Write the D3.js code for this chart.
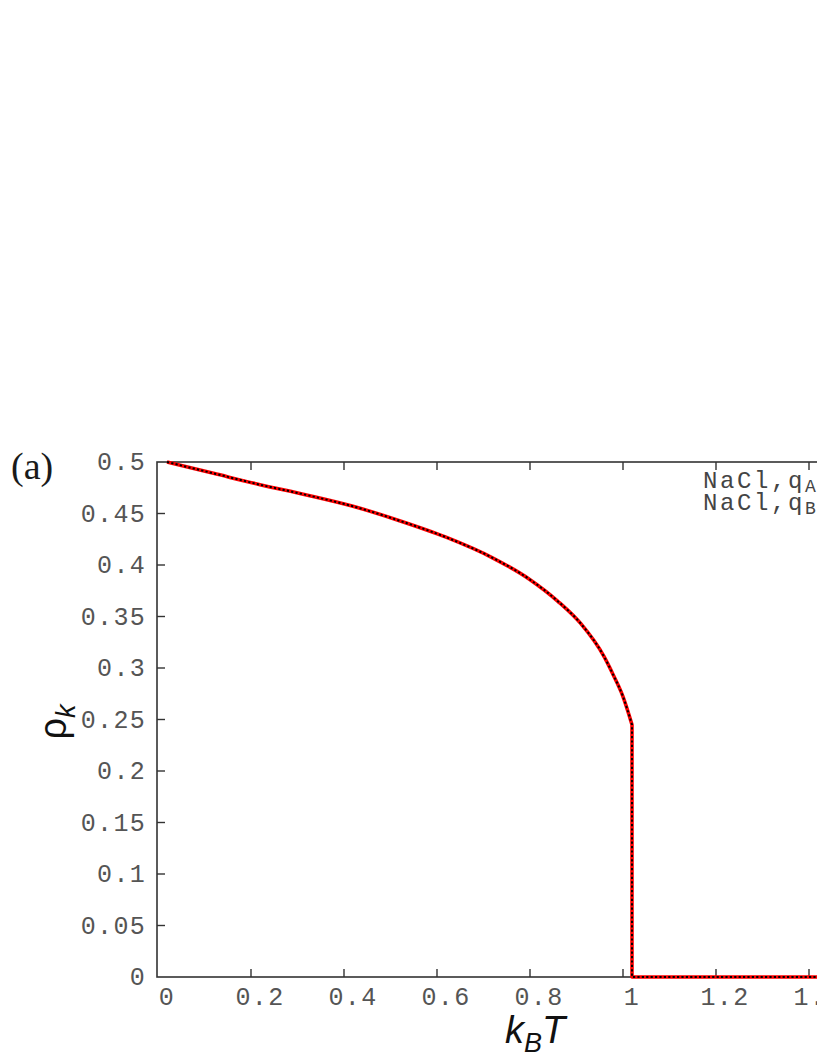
<!DOCTYPE html>
<html>
<head>
<meta charset="utf-8">
<script src="https://cdn.jsdelivr.net/npm/d3@7"></script>
<style>
  html, body { margin: 0; padding: 0; background: #fff; }
  svg { display: block; }
  .tick-label { font-family: "Liberation Mono", "DejaVu Sans Mono", monospace; font-size: 25px; letter-spacing: 1.3px; fill: #555; }
  .legend-label { font-family: "Liberation Mono", "DejaVu Sans Mono", monospace; font-size: 24px; letter-spacing: 2.6px; fill: #444; }
</style>
</head>
<body>
<svg id="chart" width="817" height="1058"></svg>
<script>
// temperature (k_B T) and order parameter rho_k
const kT = [0, 0.1, 0.2, 0.3, 0.4, 0.5, 0.6, 0.7, 0.78, 0.84, 0.89, 0.94, 0.96, 0.98, 1.0];
const rho = [0.5, 0.489, 0.478, 0.468, 0.457, 0.443, 0.427, 0.407, 0.386, 0.365, 0.343, 0.311, 0.293, 0.273, 0.245];
// after the jump at k_B T = 1 the order parameter stays at zero
const kTHigh = [1.0, 1.0, 2.0];
const rhoHigh = [0.245, 0, 0];

const xTicks = [0, 0.2, 0.4, 0.6, 0.8, 1, 1.2, 1.4, 1.6, 1.8, 2];
const yTicks = [0, 0.05, 0.1, 0.15, 0.2, 0.25, 0.3, 0.35, 0.4, 0.45, 0.5];
const legendLabels = [["NaCl,q", "A"], ["NaCl,q", "B"]];

const svg = d3.select('#chart');

const x = d3.scaleLinear().domain([0, 2]).range([167, 1097]);
const y = d3.scaleLinear().domain([0, 0.5]).range([977, 462]);

const frameL = 157, frameT = 462, frameB = 977, frameR = 1110;
const tickShift = -9; // tick marks sit a little left of their labels in the original

// frame
svg.append('rect')
  .attr('x', frameL).attr('y', frameT)
  .attr('width', frameR - frameL).attr('height', frameB - frameT)
  .style('fill', 'none')
  .style('stroke', '#333')
  .style('stroke-width', 1.6);

// x ticks (bottom and top, inward)
const xt = svg.append('g').attr('class', 'x-ticks');
xt.selectAll('line.bt')
  .data(xTicks.filter(d => d > 0))
  .enter().append('line')
  .attr('class', 'bt')
  .attr('x1', d => x(d) + tickShift).attr('x2', d => x(d) + tickShift)
  .attr('y1', frameB).attr('y2', frameB - 8)
  .style('stroke', '#333').style('stroke-width', 1.4);
xt.selectAll('line.tp')
  .data(xTicks.filter(d => d > 0))
  .enter().append('line')
  .attr('class', 'tp')
  .attr('x1', d => x(d) + tickShift).attr('x2', d => x(d) + tickShift)
  .attr('y1', frameT).attr('y2', frameT + 8)
  .style('stroke', '#333').style('stroke-width', 1.4);
xt.selectAll('text')
  .data(xTicks)
  .enter().append('text')
  .attr('class', 'tick-label')
  .attr('x', d => x(d))
  .attr('y', 1005)
  .attr('text-anchor', 'middle')
  .text(d => d3.format('')(d));

// y ticks (left, inward)
const yt = svg.append('g').attr('class', 'y-ticks');
yt.selectAll('line')
  .data(yTicks.filter(d => d > 0 && d < 0.5))
  .enter().append('line')
  .attr('x1', frameL).attr('x2', frameL + 8)
  .attr('y1', d => y(d)).attr('y2', d => y(d))
  .style('stroke', '#333').style('stroke-width', 1.4);
yt.selectAll('text')
  .data(yTicks)
  .enter().append('text')
  .attr('class', 'tick-label')
  .attr('x', 146)
  .attr('y', d => y(d) + 8)
  .attr('text-anchor', 'end')
  .text(d => d3.format('')(d));

// curve: red solid under black dotted
const smooth = d3.line()
  .x(i => x(kT[i])).y(i => y(rho[i]))
  .curve(d3.curveMonotoneX);
const step = d3.line()
  .x(i => x(kTHigh[i])).y(i => y(rhoHigh[i]));
const pathD = smooth(kT.map((d, i) => i)) + step(kTHigh.map((d, i) => i)).replace(/^M/, 'L');

svg.append('path')
  .attr('d', pathD)
  .style('fill', 'none')
  .style('stroke', '#ff0000')
  .style('stroke-width', 3.6)
  .style('stroke-linejoin', 'round');

svg.append('path')
  .attr('d', pathD)
  .style('fill', 'none')
  .style('stroke', '#000')
  .style('stroke-width', 2)
  .style('stroke-dasharray', '2.2,2.2');

// legend text (cut by the right edge)
const lg = svg.append('g');
lg.selectAll('text')
  .data(legendLabels)
  .enter().append('text')
  .attr('class', 'legend-label')
  .attr('x', 703)
  .attr('y', (d, i) => 488 + i * 22)
  .each(function(d) {
    const t = d3.select(this);
    t.append('tspan').text(d[0]);
    t.append('tspan').attr('dy', 4).style('font-size', '18px').style('letter-spacing', '1px').text(d[1]);
  });

// axis titles
const xl = svg.append('text')
  .attr('x', 535).attr('y', 1043)
  .attr('text-anchor', 'middle')
  .style('font-family', '"Liberation Sans", Arial, sans-serif')
  .style('font-style', 'italic')
  .style('font-size', '38px')
  .style('fill', '#111');
xl.append('tspan').text('k');
xl.append('tspan').attr('dy', 9).style('font-size', '27px').text('B');
xl.append('tspan').attr('dy', -9).text('T');

const yl = svg.append('text')
  .attr('transform', 'translate(66,722) rotate(-90)')
  .attr('text-anchor', 'middle')
  .style('font-family', '"Liberation Sans", Arial, sans-serif')
  .style('font-size', '38px')
  .style('fill', '#111');
yl.append('tspan').text('ρ');
yl.append('tspan').attr('dy', 9).style('font-style', 'italic').style('font-size', '27px').text('k');

// panel label
svg.append('text')
  .attr('x', 11).attr('y', 479)
  .style('font-family', '"Liberation Serif", "Times New Roman", serif')
  .style('font-size', '38px')
  .style('fill', '#1a1a1a')
  .text('(a)');
</script>
</body>
</html>
